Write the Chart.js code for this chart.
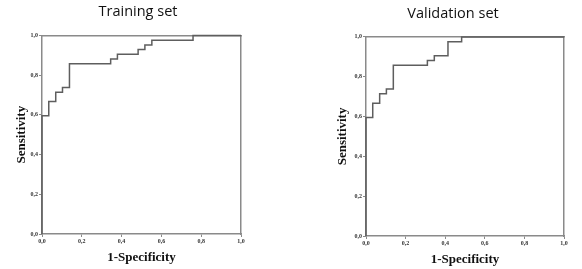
<!DOCTYPE html>
<html>
<head>
<meta charset="utf-8">
<script src="https://cdn.jsdelivr.net/npm/chart.js@4"></script>
<style>
  body { margin: 0; background: #fff; }
  #wrap { position: relative; width: 582px; height: 269px; overflow: hidden; }
  canvas { position: absolute; top: 0; }
</style>
</head>
<body>
<div id="wrap">
  <canvas id="trainChart" width="291" height="269" style="left:0"></canvas>
  <canvas id="validChart" width="291" height="269" style="left:291px"></canvas>
</div>
<script>
// ROC curve vertices (1-specificity, sensitivity)
const trainFpr = [0, 0, 0.034, 0.069, 0.103, 0.138, 0.345, 0.379, 0.483, 0.517, 0.552, 0.759, 1];
const trainTpr = [0, 0.595, 0.667, 0.714, 0.738, 0.857, 0.881, 0.905, 0.929, 0.952, 0.976, 1, 1];

const validFpr = [0, 0, 0.034, 0.069, 0.103, 0.138, 0.310, 0.345, 0.414, 0.483, 1];
const validTpr = [0, 0.595, 0.667, 0.714, 0.738, 0.857, 0.881, 0.905, 0.976, 1, 1];

const axisTicks = [0, 0.2, 0.4, 0.6, 0.8, 1.0];

const frameColor = '#8a8a8a';
const lineColor = '#5e5e5e';
const tickFont = {family: 'Liberation Serif', size: 6, weight: 'bold'};
const titleFont = {family: 'Liberation Serif', size: 13, weight: 'bold'};

function toPoints(xs, ys) {
    return xs.map((x, i) => ({x: x, y: ys[i]}));
}

function fmt(v) {
    return v.toFixed(1).replace('.', ',');
}

function makeRoc(canvasId, opts) {
    const ctx = document.getElementById(canvasId).getContext('2d');
    return new Chart(ctx, {
        type: 'line',
        data: {
            datasets: [{
                data: toPoints(opts.fpr, opts.tpr),
                stepped: true,
                borderColor: lineColor,
                borderWidth: 1.5,
                pointRadius: 0,
                fill: false,
                clip: false
            }]
        },
        options: {
            responsive: false,
            devicePixelRatio: 1,
            animation: false,
            layout: {padding: {left: opts.padLeft, right: opts.padRight, top: 0, bottom: 0}},
            plugins: {
                legend: {display: false},
                tooltip: {enabled: false},
                title: {
                    display: true,
                    text: opts.title,
                    color: '#111',
                    font: {family: 'Open Sans', size: 14.5, weight: 'normal'},
                    padding: {top: opts.titleTop, bottom: opts.titleBottom}
                }
            },
            scales: {
                x: {
                    type: 'linear', position: 'bottom', min: 0, max: 1, z: 1,
                    afterFit: s => { s.height = opts.xHeight; },
                    afterBuildTicks: s => { s.ticks = axisTicks.map(v => ({value: v})); },
                    grid: {display: true, drawOnChartArea: false, drawTicks: true, tickLength: 3, color: frameColor},
                    border: {display: true, color: frameColor, width: 1.5},
                    ticks: {font: tickFont, color: '#333', padding: 1, maxRotation: 0, callback: v => fmt(v)},
                    title: {display: true, text: '1-Specificity', font: titleFont, color: '#111',
                        padding: {top: 0, bottom: opts.xTitlePad}}
                },
                y: {
                    type: 'linear', position: 'left', min: 0, max: 1, z: 1,
                    afterFit: s => { s.width = opts.yWidth; },
                    afterBuildTicks: s => { s.ticks = axisTicks.map(v => ({value: v})); },
                    grid: {display: true, drawOnChartArea: false, drawTicks: true, tickLength: 3, color: frameColor},
                    border: {display: true, color: frameColor, width: 1.5},
                    ticks: {font: tickFont, color: '#333', padding: 1, callback: v => fmt(v)},
                    title: {display: true, text: 'Sensitivity', font: titleFont, color: '#111',
                        padding: {top: opts.yTitlePad, bottom: 0}}
                },
                xTop: {
                    type: 'linear', position: 'top', min: 0, max: 1, z: 1,
                    afterFit: s => { s.height = 0; },
                    grid: {display: false},
                    border: {display: true, color: frameColor, width: 1.5},
                    ticks: {display: false}
                },
                yRight: {
                    type: 'linear', position: 'right', min: 0, max: 1, z: 1,
                    afterFit: s => { s.width = opts.rightWidth; },
                    grid: {display: false},
                    border: {display: true, color: frameColor, width: 1.5},
                    ticks: {display: false}
                }
            }
        }
    });
}

makeRoc('trainChart', {
    fpr: trainFpr, tpr: trainTpr, title: 'Training set',
    padLeft: 0, padRight: 15, rightWidth: 35, yWidth: 42, xHeight: 35,
    titleTop: 3, titleBottom: 15, xTitlePad: 4, yTitlePad: 14
});

makeRoc('validChart', {
    fpr: validFpr, tpr: validTpr, title: 'Validation set',
    padLeft: 33, padRight: 0, rightWidth: 18, yWidth: 42, xHeight: 33,
    titleTop: 5, titleBottom: 14.5, xTitlePad: 2, yTitlePad: 11
});
</script>
</body>
</html>
